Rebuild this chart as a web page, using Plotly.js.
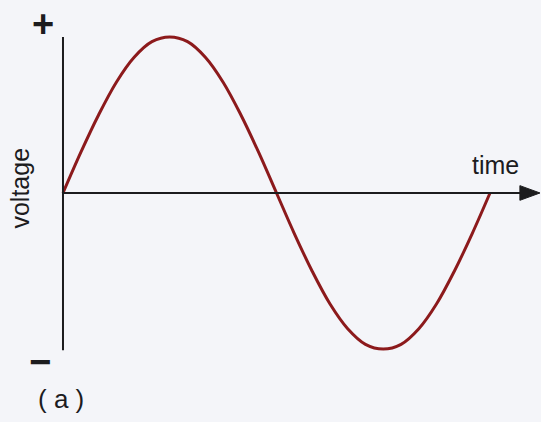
<!DOCTYPE html>
<html>
<head>
<meta charset="utf-8">
<script src="https://cdn.plot.ly/plotly-3.0.1.min.js"></script>
<style>
  html, body { margin: 0; padding: 0; background: #f4f5f9; }
  #chart { width: 541px; height: 422px; }
</style>
</head>
<body>
<div id="chart"></div>
<script>
// One full cycle of an alternating voltage, time in fractions of a period.
const timeValues = [0, 0.0417, 0.0833, 0.125, 0.1667, 0.2083, 0.25, 0.2917, 0.3333, 0.375, 0.4167, 0.4583,
                    0.5, 0.5417, 0.5833, 0.625, 0.6667, 0.7083, 0.75, 0.7917, 0.8333, 0.875, 0.9167, 0.9583, 1];
const voltageValues = [0, 0.26, 0.5, 0.71, 0.87, 0.97, 1, 0.97, 0.87, 0.71, 0.5, 0.26,
                       0, -0.26, -0.5, -0.71, -0.87, -0.97, -1, -0.97, -0.87, -0.71, -0.5, -0.26, 0];

// Axis labels
const xLabel = 'time';
const yLabel = 'voltage';
const plusLabel = '+';
const minusLabel = '\u2212';
const panelLabel = '( a )';

const FONT = 'Liberation Sans, Arial, sans-serif';
const INK = '#1c1c1e';

const trace = {
  x: timeValues,
  y: voltageValues,
  type: 'scatter',
  mode: 'lines',
  line: { color: '#8c1a1c', width: 3, shape: 'spline', smoothing: 1 },
  hoverinfo: 'skip'
};

const xRange = [-0.1475, 1.1194];
const yRange = [-1.468, 1.237];
const tipX = 1.1170;

const layout = {
  width: 541,
  height: 422,
  margin: { l: 0, r: 0, t: 0, b: 0 },
  paper_bgcolor: '#f4f5f9',
  plot_bgcolor: '#f4f5f9',
  showlegend: false,
  xaxis: { range: xRange, visible: false, fixedrange: true },
  yaxis: { range: yRange, visible: false, fixedrange: true },
  shapes: [
    // vertical (voltage) axis
    { type: 'line', xref: 'x', yref: 'y', x0: 0, x1: 0, y0: 1.0, y1: -1.008,
      line: { color: INK, width: 2 } },
    // horizontal (time) axis
    { type: 'line', xref: 'x', yref: 'y', x0: 0, x1: tipX - 0.03, y0: 0, y1: 0,
      line: { color: INK, width: 2 } },
    // arrowhead on the time axis
    { type: 'path', xref: 'x', yref: 'y',
      path: `M ${tipX} 0 L ${tipX - 0.047} 0.047 L ${tipX - 0.047} -0.047 Z`,
      fillcolor: INK, line: { color: INK, width: 1 } }
  ],
  annotations: [
    { text: xLabel, xref: 'x', yref: 'y', x: 1.013, y: 0.18, showarrow: false,
      font: { family: FONT, size: 25, color: INK } },
    { text: yLabel, xref: 'x', yref: 'y', x: -0.1, y: 0.03, showarrow: false, textangle: -90,
      font: { family: FONT, size: 25, color: INK } },
    { text: '<b>' + plusLabel + '</b>', xref: 'x', yref: 'y', x: -0.047, y: 1.08, showarrow: false,
      font: { family: FONT, size: 38, color: INK } },
    { text: '<b>' + minusLabel + '</b>', xref: 'x', yref: 'y', x: -0.053, y: -1.085, showarrow: false,
      font: { family: FONT, size: 38, color: INK } },
    { text: panelLabel, xref: 'x', yref: 'y', x: -0.005, y: -1.32, showarrow: false,
      font: { family: FONT, size: 26, color: INK } }
  ]
};

Plotly.newPlot('chart', [trace], layout, { staticPlot: true, displayModeBar: false });
</script>
</body>
</html>
